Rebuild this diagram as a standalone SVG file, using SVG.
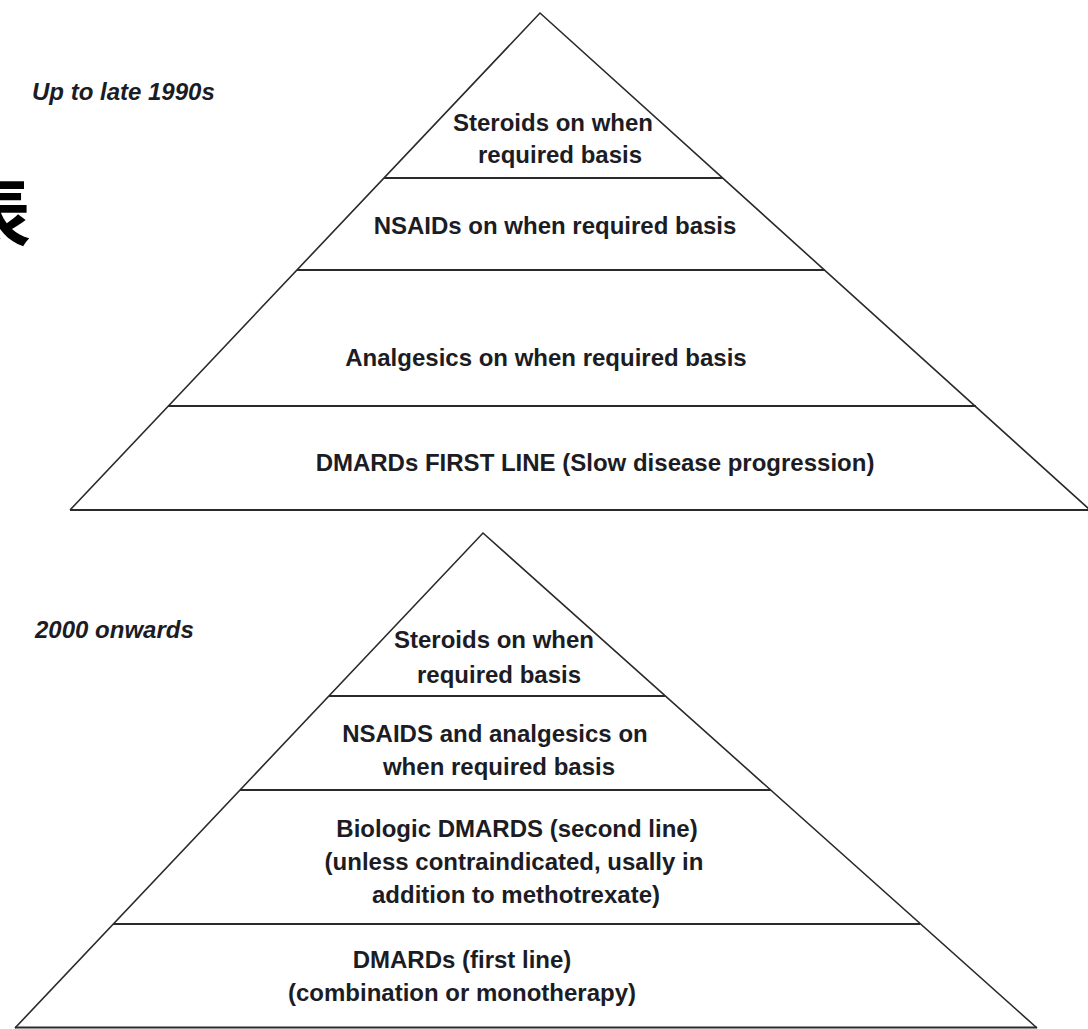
<svg xmlns="http://www.w3.org/2000/svg" width="1088" height="1029" viewBox="0 0 1088 1029">
<style>
.edge{fill:none;stroke:#2a2a2a;stroke-width:1.6;stroke-linejoin:miter}
.band{stroke:#2a2a2a;stroke-width:2.2}
.t{font-family:"Liberation Sans",Arial,Helvetica,sans-serif;font-weight:bold;font-size:24px;fill:#1c1c24;text-anchor:middle}
.lbl{font-family:"Liberation Sans",Arial,Helvetica,sans-serif;font-weight:bold;font-style:italic;font-size:24px;fill:#1c1c24}
.cjk{font-family:"Noto Sans CJK SC","Noto Sans CJK JP",sans-serif;font-weight:bold;font-size:76px;fill:#000}
</style>
<rect width="1088" height="1029" fill="#fff"/>
<text class="cjk" x="-45" y="241">表</text>

<g id="labels">
<text class="lbl" x="32" y="100">Up to late 1990s</text>
<text class="lbl" x="35" y="638">2000 onwards</text>
</g>

<g id="pyramid-1990s">
<path class="edge" d="M70,510 L540,13 L1090,510"/>
<g id="connectors-1990s">
<line class="band" x1="384" y1="178" x2="723" y2="178"/>
<line class="band" x1="297" y1="270" x2="825" y2="270"/>
<line class="band" x1="168" y1="406" x2="976" y2="406"/>
<line class="band" x1="70" y1="510" x2="1090" y2="510"/>
</g>
<g id="p1-steroids"><text class="t" x="553" y="131">Steroids on when</text><text class="t" x="560" y="163">required basis</text></g>
<g id="p1-nsaids"><text class="t" x="555" y="234">NSAIDs on when required basis</text></g>
<g id="p1-analgesics"><text class="t" x="546" y="366">Analgesics on when required basis</text></g>
<g id="p1-dmards"><text class="t" x="595" y="471">DMARDs FIRST LINE (Slow disease progression)</text></g>
</g>

<g id="pyramid-2000">
<path class="edge" d="M15,1028 L483,533 L1037,1028"/>
<g id="connectors-2000">
<line class="band" x1="329" y1="696" x2="665" y2="696"/>
<line class="band" x1="240" y1="790" x2="771" y2="790"/>
<line class="band" x1="113" y1="924" x2="920" y2="924"/>
<line class="band" x1="15" y1="1027.5" x2="1037" y2="1027.5"/>
</g>
<g id="p2-steroids"><text class="t" x="494" y="648">Steroids on when</text><text class="t" x="499" y="683">required basis</text></g>
<g id="p2-nsaids"><text class="t" x="495" y="742">NSAIDS and analgesics on</text><text class="t" x="499" y="775">when required basis</text></g>
<g id="p2-biologic"><text class="t" x="517" y="837">Biologic DMARDS (second line)</text><text class="t" x="514" y="870">(unless contraindicated, usally in</text><text class="t" x="516" y="903">addition to methotrexate)</text></g>
<g id="p2-dmards"><text class="t" x="462" y="968">DMARDs (first line)</text><text class="t" x="462" y="1001">(combination or monotherapy)</text></g>
</g>
</svg>
